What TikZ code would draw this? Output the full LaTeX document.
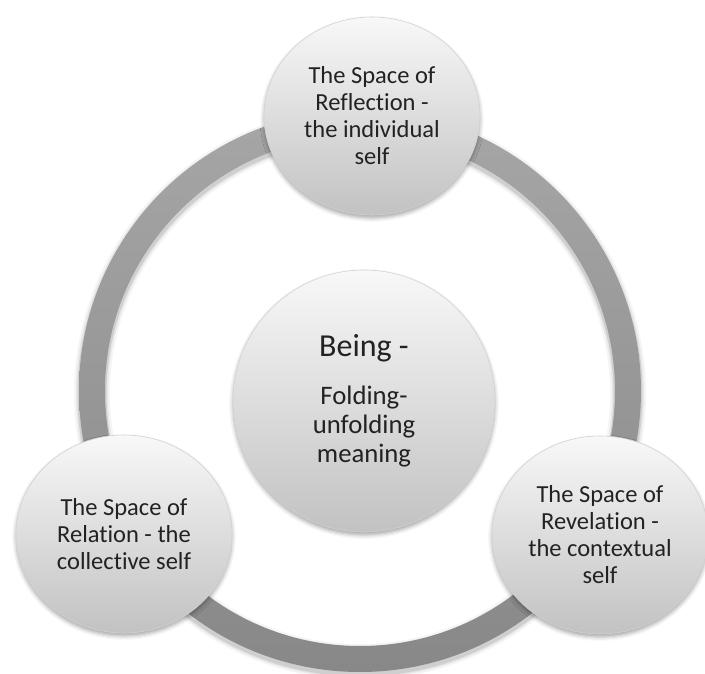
\documentclass[tikz,border=0pt]{standalone}
\usepackage{fontspec}
\setmainfont{Carlito}[Ligatures=NoCommon]
\usepackage{tikz}
\usepackage{xcolor}
\usetikzlibrary{shapes.geometric}
\usetikzlibrary{shadows.blur}

\definecolor{ringlight}{HTML}{A6A6A6}
\definecolor{ringdark}{HTML}{888888}
\definecolor{balltop}{HTML}{F8F8F8}
\definecolor{ballbottom}{HTML}{C2C2C2}
\definecolor{balledge}{HTML}{D2D2D2}
\definecolor{inktext}{HTML}{222222}

\begin{document}
\begin{tikzpicture}[x=1pt,y=1pt,
		spaceball/.style={ellipse,minimum width=216pt,minimum height=198pt,inner sep=0pt,
			top color=balltop,bottom color=ballbottom,draw=balledge,line width=0.6pt,
			align=center,text=inktext,font=\fontsize{24.5}{27}\selectfont,
			blur shadow={shadow xshift=0pt,shadow yshift=-3pt,shadow blur radius=4pt,shadow opacity=35}},
		beingball/.style={spaceball,circle,minimum size=262pt,font=\fontsize{26.7}{29}\selectfont}]
		\def \cx {360};
		\def \cy {282};
		\def \ringR {268};
		\def \ringW {26};
		\useasboundingbox (0,0) rectangle (705,673);
		% soft shadow under the ring
		\foreach \w/\op in {36/0.04,32/0.06,29/0.1}
		{
			\draw[line width=\w pt,black,opacity=\op] (\cx,\cy-3) circle [radius=\ringR];
		}
		\shade[even odd rule,top color=ringlight,bottom color=ringdark]
			(\cx,\cy) circle [radius=\ringR+\ringW/2] (\cx,\cy) circle [radius=\ringR-\ringW/2];
		% the four spaces
		\node[beingball] (being) at (364,272)
			{{\fontsize{32}{36}\selectfont Being -}\\[19pt]Folding-\\unfolding\\meaning};
		\node[spaceball] (reflection) at (372,557) {The Space of\\Reflection -\\the individual\\self};
		\node[spaceball] (relation) at (124,139) {The Space of\\Relation - the\\collective self};
		\node[spaceball] (revelation) at (600,138) {The Space of\\Revelation -\\the contextual\\self};
	\end{tikzpicture}
\end{document}
